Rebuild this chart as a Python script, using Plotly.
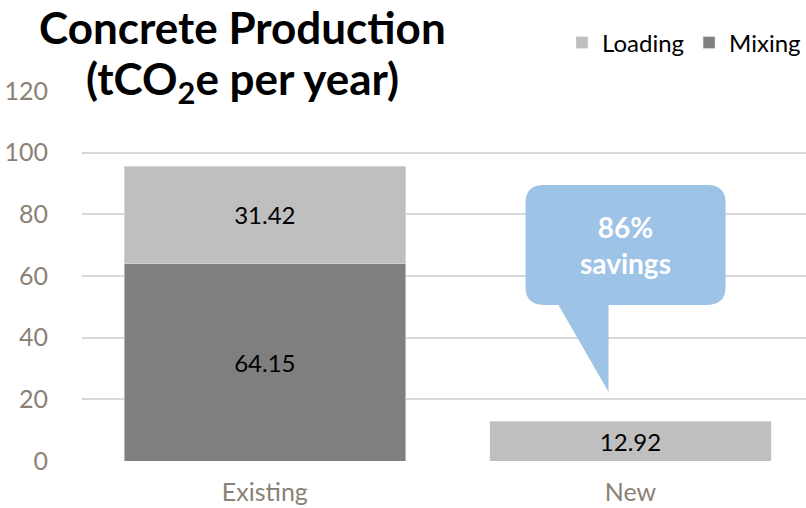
import plotly.graph_objects as go

categories = ["Existing", "New"]
mixing = [64.15, None]
loading = [31.42, 12.92]
y_ticks = [0, 20, 40, 60, 80, 100, 120]
title_lines = ["Concrete Production", "(tCO<sub>2</sub>e per year)"]
callout_text = "86%<br>savings"

FONT = "Lato"
TICK_COLOR = "#8B8175"

fig = go.Figure()
fig.add_trace(go.Bar(
    x=categories, y=mixing, name="Mixing",
    marker=dict(color="#7F7F7F"),
    text=[f"{v:.2f}" if v is not None else "" for v in mixing],
    textposition="inside", insidetextanchor="middle",
    textfont=dict(color="black", size=24, family=FONT),
))
fig.add_trace(go.Bar(
    x=categories, y=loading, name="Loading",
    marker=dict(color="#BFBFBF"),
    text=[f"{v:.2f}" for v in loading],
    textposition="inside", insidetextanchor="middle",
    textfont=dict(color="black", size=24, family=FONT),
))

# callout bubble (data coordinates)
x0, x1 = 0.713, 1.26
y0, y1 = 50.6, 89.5
rx, ry = 0.05, 5.8
tx0, tx1, ty = 0.803, 0.94, 22.4
path = (
    f"M {x0+rx} {y1} L {x1-rx} {y1} Q {x1} {y1} {x1} {y1-ry} "
    f"L {x1} {y0+ry} Q {x1} {y0} {x1-rx} {y0} "
    f"L {tx1} {y0} L {tx1} {ty} L {tx0} {y0} "
    f"L {x0+rx} {y0} Q {x0} {y0} {x0} {y0+ry} "
    f"L {x0} {y1-ry} Q {x0} {y1} {x0+rx} {y1} Z"
)
fig.add_shape(type="path", path=path, xref="x", yref="y",
              fillcolor="#9DC3E6", line=dict(width=0), layer="above")
fig.add_annotation(x=(x0 + x1) / 2, y=(y0 + y1) / 2, xref="x", yref="y",
                   text="<b>" + callout_text + "</b>", showarrow=False,
                   font=dict(color="white", size=28, family=FONT))

for line, ypos in zip(title_lines, [1.172, 1.025]):
    fig.add_annotation(
        xref="paper", yref="paper", x=0.221, y=ypos, xanchor="center", yanchor="middle",
        text="<b>" + line + "</b>", showarrow=False,
        font=dict(color="black", size=44, family=FONT),
    )

fig.update_layout(
    width=806, height=508,
    margin=dict(l=82, r=0, t=91, b=47, autoexpand=False),
    paper_bgcolor="white", plot_bgcolor="white",
    barmode="stack", bargap=0.23,
    showlegend=True,
    legend=dict(orientation="h", x=1.0, xanchor="right", y=1.13, yanchor="middle",
                traceorder="reversed",
                font=dict(size=24, family=FONT, color="black"),
                itemwidth=30, tracegroupgap=0),
    xaxis=dict(range=[-0.5, 1.48], tickfont=dict(size=25, family=FONT, color=TICK_COLOR),
               showgrid=False, zeroline=False, showline=False, ticks="",
               ticklabelstandoff=14),
    yaxis=dict(range=[0, 120], tickvals=y_ticks, showgrid=True, gridcolor="#D9D9D9",
               gridwidth=1.5, zeroline=False, showline=False,
               tickfont=dict(size=25, family=FONT, color=TICK_COLOR),
               ticklabelstandoff=33),
)

fig.write_html(
    "out.html",
    config={"displayModeBar": False},
    post_script="document.body.style.margin='0';document.body.style.overflow='hidden';",
)
